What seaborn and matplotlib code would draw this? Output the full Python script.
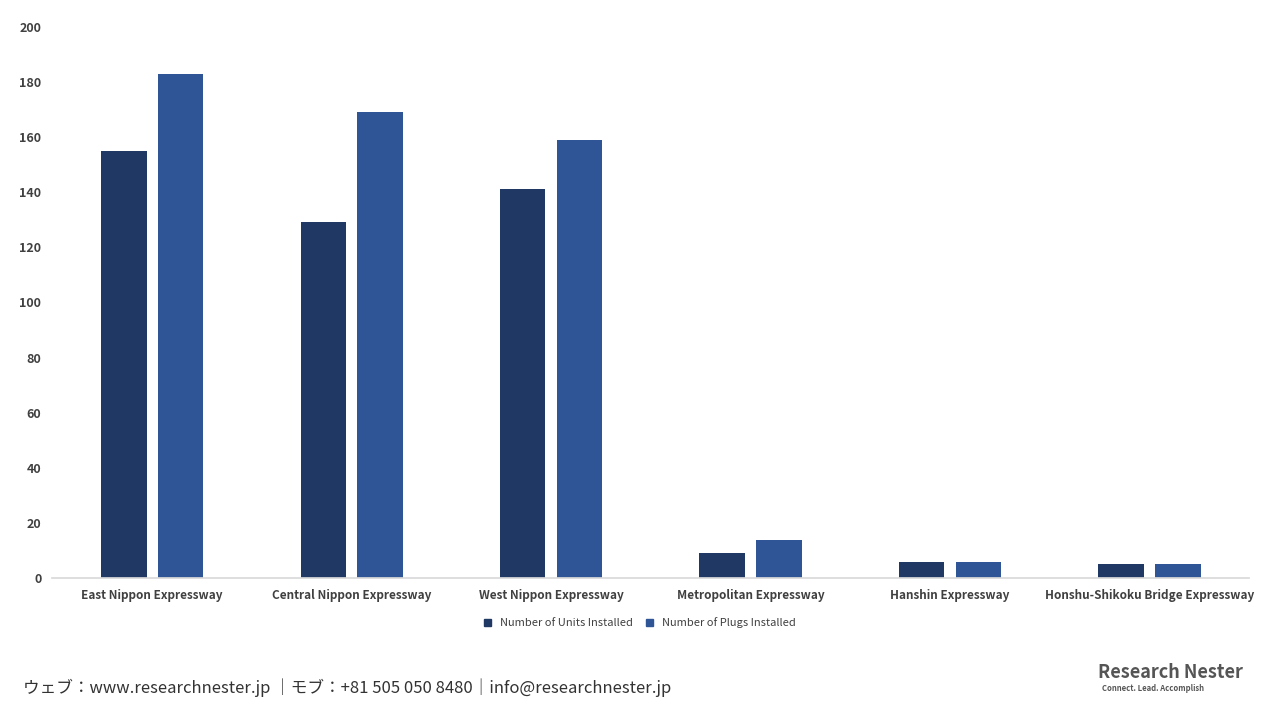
import matplotlib
matplotlib.use("Agg")
import matplotlib.pyplot as plt
import seaborn as sns
import pandas as pd

categories = ["East Nippon Expressway", "Central Nippon Expressway", "West Nippon Expressway",
              "Metropolitan Expressway", "Hanshin Expressway", "Honshu-Shikoku Bridge Expressway"]
units = [155, 129, 141, 9, 6, 5]
plugs = [183, 169, 159, 14, 6, 5]
series_names = ["Number of Units Installed", "Number of Plugs Installed"]
yticks = [0, 20, 40, 60, 80, 100, 120, 140, 160, 180, 200]

df = pd.DataFrame({
    "cat": categories * 2,
    "val": units + plugs,
    "series": [series_names[0]] * len(categories) + [series_names[1]] * len(categories),
})

sns.set_theme(style="white")
plt.rcParams['font.family'] = ['Noto Sans CJK JP', 'DejaVu Sans']

fig = plt.figure(figsize=(12.8, 7.2), dpi=100)
ax = fig.add_axes([0.041, 0.197, 0.935, 0.766])
sns.barplot(data=df, x="cat", y="val", hue="series", palette=["#1F3864", "#2F5597"],
            ax=ax, width=0.57, gap=0.2, legend=False, saturation=1, linewidth=0)
ax.set_ylim(0, 200)
ax.set_yticks(yticks)
ax.set_yticklabels([str(t) for t in yticks], fontsize=9, color="#404040", fontweight="bold")
ax.set_xticklabels(categories, fontsize=8.5, color="#404040", fontweight="bold")
ax.set_xlabel("")
ax.set_ylabel("")
ax.tick_params(axis="both", length=0, pad=8)
ax.set_xlim(-0.5, len(categories) - 0.5)
for s in ["top", "right", "left"]:
    ax.spines[s].set_visible(False)
ax.spines["bottom"].set_color("#d9d9d9")

from matplotlib.patches import Patch
handles = [Patch(color="#1F3864"), Patch(color="#2F5597")]
fig.legend(handles, series_names, loc="center", bbox_to_anchor=(0.5, 0.135), ncol=2,
           frameon=False, fontsize=8, handlelength=0.6, handleheight=0.6, columnspacing=1.2,
           labelcolor="#404040")

fig.text(0.018, 0.038, "ウェブ：www.researchnester.jp ｜モブ：+81 505 050 8480｜info@researchnester.jp",
         fontsize=12, color="#333333")
fig.text(0.858, 0.058, "Research Nester", fontsize=13, fontweight="bold", color="#555555")
fig.text(0.861, 0.040, "Connect. Lead. Accomplish", fontsize=5.5, fontweight="bold", color="#555555")

fig.savefig("out.png", dpi=100)
